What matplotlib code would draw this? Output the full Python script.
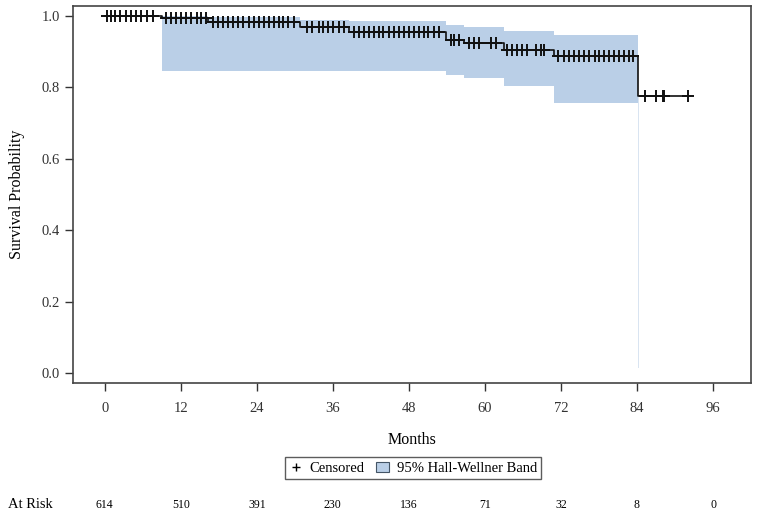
import matplotlib
matplotlib.use("Agg")
import matplotlib.pyplot as plt
from matplotlib.lines import Line2D
from matplotlib.patches import Patch
import matplotlib.transforms as mtransforms
import numpy as np

plt.rcParams['font.family'] = ['Liberation Serif', 'DejaVu Serif']

# Kaplan-Meier step curve (time where each level starts, survival level)
step_times = [0, 9.0, 16.3, 30.9, 38.5, 53.9, 56.7, 63.0, 70.9, 84.2]
step_surv = [1.0, 0.995, 0.982, 0.969, 0.955, 0.933, 0.924, 0.905, 0.887, 0.775]
end_time = 92.0

# Hall-Wellner band (time where each level starts, upper, lower)
band_times = [9.0, 16.3, 30.9, 38.5, 53.9, 56.7, 63.0, 70.9, 84.2]
band_end = 84.35
band_upper = [0.999, 0.996, 0.99, 0.985, 0.975, 0.97, 0.957, 0.947, 0.78]
band_lower = [0.845, 0.845, 0.845, 0.845, 0.835, 0.825, 0.803, 0.755, 0.015]

# Censoring times (months)
censor_times = [0.3, 1.0, 1.6, 2.4, 3.4, 4.2, 5.0, 5.8, 6.6, 7.6,
                9.7, 10.4, 11.3, 12.1, 12.9, 13.7, 14.5, 15.2, 16.0,
                17.1, 17.9, 18.7, 19.5, 20.3, 21.1, 21.9, 22.7, 23.5, 24.3,
                25.1, 25.9, 26.7, 27.5, 28.2, 29.0, 29.8,
                31.9, 32.7, 33.8, 34.5, 35.3, 36.1, 36.9, 37.7,
                39.3, 40.1, 40.9, 41.7, 42.5, 43.3, 44.0, 44.8, 45.6, 46.4,
                47.2, 48.0, 48.8, 49.6, 50.4, 51.1, 51.9, 52.7,
                54.6, 55.1, 55.9, 57.5, 58.3, 59.1, 60.9, 61.7,
                63.5, 64.3, 65.1, 65.9, 66.7, 68.0, 68.8, 69.4,
                71.5, 72.5, 73.3, 74.1, 74.9, 75.7, 76.5, 77.3, 78.0, 78.8,
                79.6, 80.4, 81.2, 82.0, 82.8, 83.3,
                85.2, 87.0, 88.1, 88.3, 92.0]

# Number at risk
risk_times = [0, 12, 24, 36, 48, 60, 72, 84, 96]
at_risk = [614, 510, 391, 230, 136, 71, 32, 8, 0]

fig = plt.figure(figsize=(7.58, 5.15), dpi=100)
ax = fig.add_axes([0.0963, 0.2563, 0.8945, 0.732])

band_color = '#bacfe7'
bt = list(band_times) + [band_end]
for i in range(len(band_times)):
    last = i == len(band_times) - 1
    ax.fill_between([bt[i], bt[i + 1]], [band_lower[i]] * 2, [band_upper[i]] * 2,
                    color=band_color, linewidth=0, alpha=0.55 if last else 1.0)

xs = list(step_times) + [end_time]
ys = list(step_surv) + [step_surv[-1]]
ax.step(xs, ys, where='post', color='#111111', linewidth=1.2)


def surv_at(t):
    idx = np.searchsorted(step_times, t, side='right') - 1
    return step_surv[idx]


cy = [surv_at(t) for t in censor_times]
ax.plot(censor_times, cy, linestyle='none', marker='+', color='#111111',
        markersize=9, markeredgewidth=1.4)

ax.set_xlim(-5, 102)
ax.set_ylim(-0.028, 1.028)
ax.set_xticks(risk_times)
ax.set_yticks([0.0, 0.2, 0.4, 0.6, 0.8, 1.0])
ax.set_yticklabels(['0.0', '0.2', '0.4', '0.6', '0.8', '1.0'])
ax.tick_params(direction='out', length=6, width=1, labelsize=10.5, colors='#333333')
ax.tick_params(axis='x', pad=8)
for s in ax.spines.values():
    s.set_color('#444444')
    s.set_linewidth(1.2)

ax.set_xlabel('Months', fontsize=11.5, labelpad=12)
ax.set_ylabel('Survival Probability', fontsize=11.5, labelpad=12)

handles = [Line2D([], [], linestyle='none', marker='+', color='black', markersize=6),
           Patch(facecolor=band_color, edgecolor='#445566', linewidth=0.8)]
leg = fig.legend(handles, ['Censored', '95% Hall-Wellner Band'], loc='center',
                 bbox_to_anchor=(0.545, 0.091), ncol=2, fontsize=10.5, frameon=True,
                 fancybox=False, edgecolor='#333333', handlelength=0.9,
                 handletextpad=0.5, columnspacing=0.8, borderpad=0.3)
leg.get_frame().set_linewidth(1.0)

trans = mtransforms.blended_transform_factory(ax.transData, fig.transFigure)
for t, n in zip(risk_times, at_risk):
    ax.text(t, 1 - 505 / 515, str(n), transform=trans, ha='center', va='center',
            fontsize=8.5)
fig.text(8 / 758, 1 - 505 / 515, 'At Risk', ha='left', va='center', fontsize=10.5)

fig.savefig('out.png', dpi=100)
